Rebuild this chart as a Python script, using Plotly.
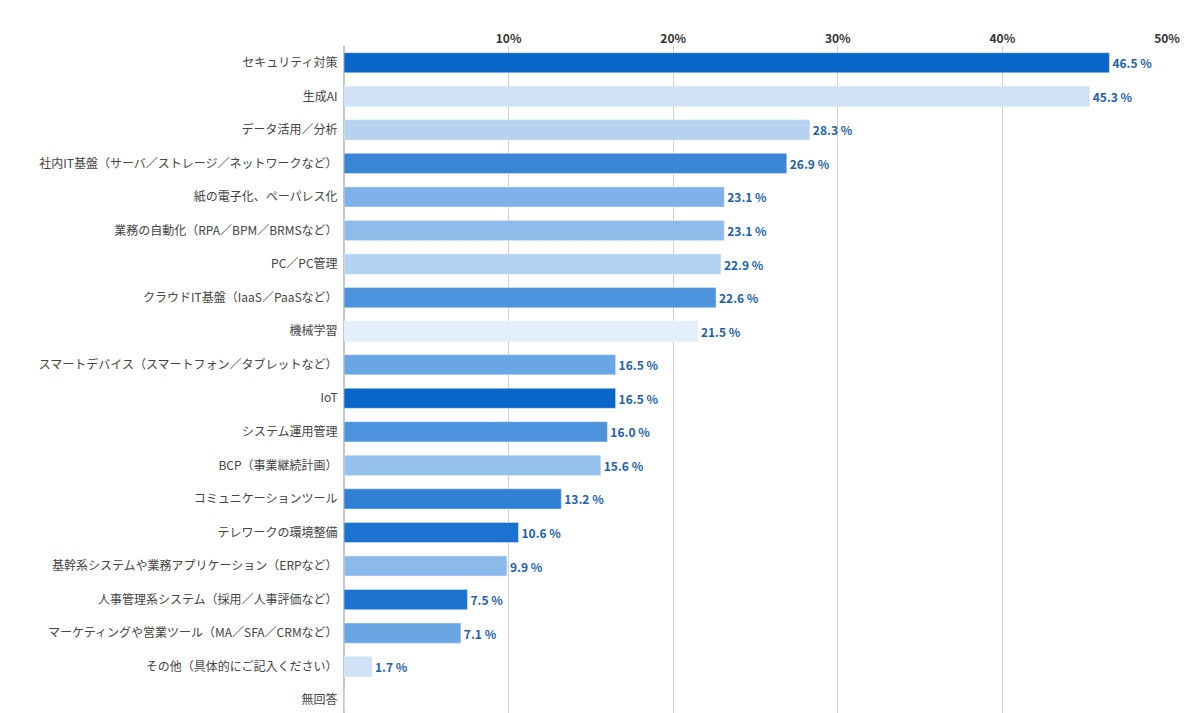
import plotly.graph_objects as go

categories = [
    "セキュリティ対策", "生成AI", "データ活用／分析",
    "社内IT基盤（サーバ／ストレージ／ネットワークなど）",
    "紙の電子化、ペーパレス化", "業務の自動化（RPA／BPM／BRMSなど）",
    "PC／PC管理", "クラウドIT基盤（IaaS／PaaSなど）", "機械学習",
    "スマートデバイス（スマートフォン／タブレットなど）", "IoT",
    "システム運用管理", "BCP（事業継続計画）", "コミュニケーションツール",
    "テレワークの環境整備", "基幹系システムや業務アプリケーション（ERPなど）",
    "人事管理系システム（採用／人事評価など）",
    "マーケティングや営業ツール（MA／SFA／CRMなど）",
    "その他（具体的にご記入ください）", "無回答",
]
values = [46.5, 45.3, 28.3, 26.9, 23.1, 23.1, 22.9, 22.6, 21.5, 16.5,
          16.5, 16.0, 15.6, 13.2, 10.6, 9.9, 7.5, 7.1, 1.7, 0]
colors = ["#0b66c9", "#cfe2f7", "#b5d3f1", "#3a85d6", "#7fb2e8", "#8fbbeb",
          "#b3d2f2", "#4d92dc", "#e3effa", "#6aa5e4", "#0b66c9", "#4d92dc",
          "#97c1ed", "#2f7fd5", "#1b72cf", "#8ab9ea", "#1b72cf", "#6aa5e4",
          "#cfe2f7", "#cfe2f7"]
texts = [f"{v:.1f} %" if v > 0 else "" for v in values]

fig = go.Figure(go.Bar(
    x=values, y=categories, orientation="h",
    marker_color=colors, width=0.6,
    text=texts, textposition="outside", cliponaxis=False,
    textfont=dict(color="#1f5fa8", size=12, family="Noto Sans CJK JP"),
))
fig.update_layout(
    width=1200, height=713,
    margin=dict(l=336, r=41, t=38, b=4),
    plot_bgcolor="white", paper_bgcolor="white",
    font=dict(family="Noto Sans CJK JP", size=12, color="#444"),
    showlegend=False, bargap=0.4,
)
fig.update_traces(texttemplate="<b>%{text}</b>")
fig.update_xaxes(
    side="top", range=[0, 50], tickvals=[10, 20, 30, 40, 50],
    ticktext=["<b>10%</b>", "<b>20%</b>", "<b>30%</b>", "<b>40%</b>", "<b>50%</b>"],
    showgrid=True, gridcolor="#d0d0d0", zeroline=True, zerolinecolor="#c8c8c8",
    tickfont=dict(color="#333", size=12),
)
fig.update_yaxes(autorange="reversed", ticksuffix="  ", tickfont=dict(color="#444", size=12),
                 showline=False)
fig.write_html("out.html")
